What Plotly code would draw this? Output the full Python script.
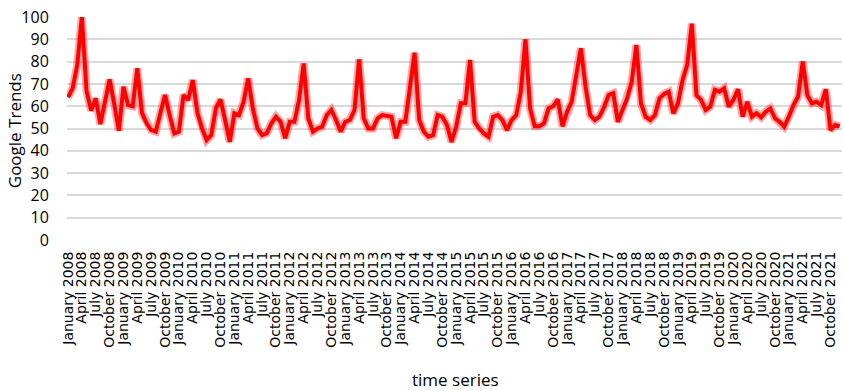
import plotly.graph_objects as go

months = ["January", "February", "March", "April", "May", "June", "July",
          "August", "September", "October", "November", "December"]
years = list(range(2008, 2022))

values = [
    64, 68, 78.5, 100, 67, 58, 63.5, 52, 62, 72, 61, 49,          # 2008
    68.7, 60.5, 60, 77, 57, 52.3, 49.3, 48.6, 57, 65, 56, 47.8,   # 2009
    48.6, 65, 62.8, 71.7, 57, 50, 44.8, 47, 59, 63, 53.8, 44,     # 2010
    56.8, 56, 62, 72.5, 59, 50, 47, 47.8, 52.3, 55.3, 53, 45.6,   # 2011
    53, 53, 62.8, 79.2, 54.6, 48.6, 50, 50.8, 56, 58.3, 53.8, 48.6,  # 2012
    53, 53.8, 58.3, 81, 54.6, 50, 50, 54.6, 56, 55.6, 55.3, 45.6,    # 2013
    53, 53, 67, 84, 53.8, 48.6, 46.3, 47, 56, 55.3, 51.6, 44,        # 2014
    50.8, 61.3, 61.3, 80.7, 53, 50, 47.8, 46.3, 55.3, 56, 53.8, 49.3,  # 2015
    53.8, 56, 66.5, 90, 59, 51, 51, 52.3, 59, 60, 63, 51,            # 2016
    57.5, 62, 74, 86, 68.7, 56, 53.8, 55.3, 59.5, 65, 65.8, 53,      # 2017
    58.3, 63.5, 71, 87.4, 61.3, 55.3, 53.8, 56, 63.5, 65.5, 66.5, 56.8,  # 2018
    61.3, 71.7, 78.5, 97, 65, 62.8, 58.3, 59.8, 67.3, 66.5, 68, 59.8,    # 2019
    62.8, 67.6, 55.3, 62, 55.3, 56.8, 55, 57.5, 59, 54.6, 53, 50.8,      # 2020
    55.3, 60.5, 64.3, 80, 65, 61.3, 62, 60.5, 67.6, 49.3, 51.6, 51,      # 2021
]

labels = [f"{m} {y}" for y in years for m in months]
tick_labels = labels[::3]

y_ticks = list(range(0, 101, 10))

fig = go.Figure()
# soft halo under the line
fig.add_trace(go.Scatter(
    x=labels, y=values, mode="lines",
    line=dict(color="rgba(255,0,0,0.35)", width=8),
    hoverinfo="skip", showlegend=False,
))
fig.add_trace(go.Scatter(
    x=labels, y=values, mode="lines",
    line=dict(color="#ff0000", width=4),
    showlegend=False,
))

fig.update_layout(
    width=844, height=391,
    margin=dict(l=67, r=2, t=17, b=151),
    paper_bgcolor="white", plot_bgcolor="white",
    font=dict(family="DejaVu Sans", color="#000000"),
    xaxis=dict(
        type="category", automargin=False,
        range=[-0.22, 167.5],
        tickmode="array", tickvals=tick_labels, ticktext=tick_labels,
        tickangle=-90, tickfont=dict(size=14, family="DejaVu Sans"),
        showgrid=False, zeroline=False, showline=False,
        ticks="outside", ticklen=5, tickcolor="rgba(0,0,0,0)",
    ),
    yaxis=dict(
        automargin=False,
        range=[0, 100], tickmode="array", tickvals=y_ticks,
        tickfont=dict(size=16, family="Open Sans"),
        showgrid=True, gridcolor="#d9d9d9", gridwidth=1.5,
        zeroline=False, showline=False,
        ticks="outside", ticklen=14, tickcolor="rgba(0,0,0,0)",
    ),
    annotations=[
        dict(text="Google Trends", textangle=-90, xref="paper", yref="paper",
             x=-66 / 775, y=0.49, xanchor="left", yanchor="middle",
             showarrow=False, font=dict(size=17, family="Open Sans")),
        dict(text="time series", xref="paper", yref="paper",
             x=(455 - 67) / 775, y=-(379 - 240) / 223, xanchor="center", yanchor="middle",
             showarrow=False, font=dict(size=17, family="Open Sans")),
    ],
)

fig.write_html("out.html", config={"displayModeBar": False},
               post_script="document.body.style.margin='0';")
